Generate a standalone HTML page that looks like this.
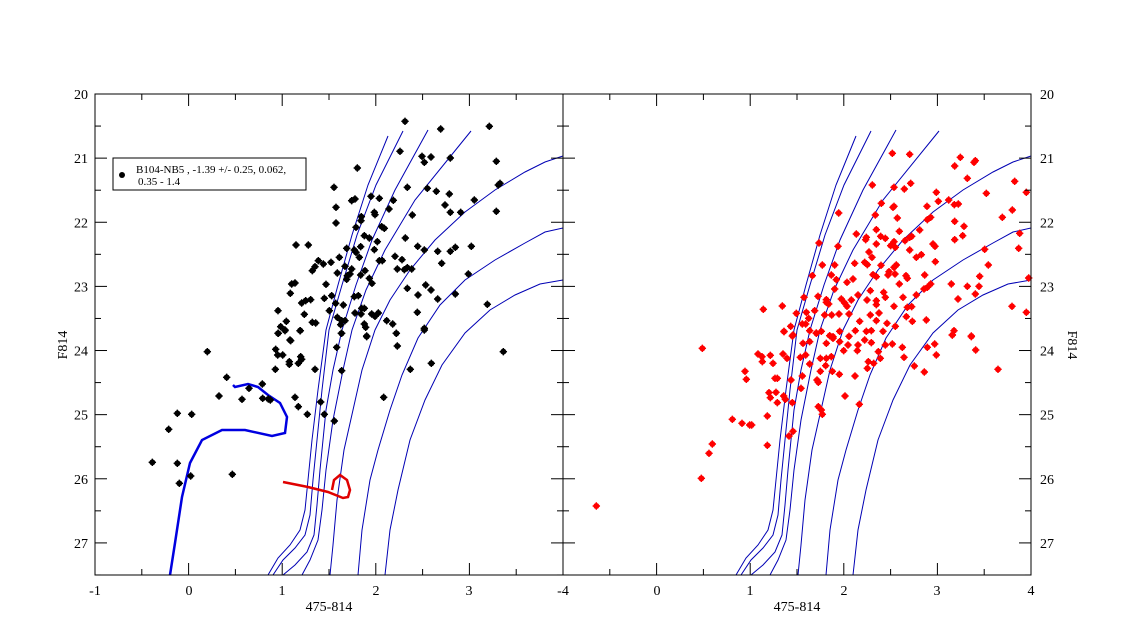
<!DOCTYPE html>
<html><head><meta charset="utf-8"><style>
html,body{margin:0;padding:0;background:#fff;}
svg{display:block;font-family:"Liberation Serif",serif;}
</style></head><body>
<svg id="c" width="1125" height="625" viewBox="0 0 1125 625" xmlns="http://www.w3.org/2000/svg">
<defs>
<clipPath id="cl"><rect x="95" y="94" width="468" height="481"/></clipPath>
<clipPath id="cr"><rect x="563" y="94" width="468" height="481"/></clipPath>
<g id="iso" fill="none" stroke="#0000b4" stroke-width="1">
<polyline points="268,575 278,558 290,545 300,530 305,510 308,480 312,440 318,390 326,330 338,285 352,235 368,185 388,136"/>
<polyline points="273,575 283,560 295,548 305,535 310,515 313,480 317,440 322,390 329,330 342,285 357,235 376,185 403,131"/>
<polyline points="283,575 295,565 307,552 314,535 317,505 320,470 326,410 333,370 342,330 356,285 372,240 395,190 428,130"/>
<polyline points="302,575 310,560 318,540 322,510 326,470 333,420 343,370 352,330 366,290 385,250 415,200 471,131"/>
<polyline points="330,575 333,545 337,500 344,450 353,410 362,370 375,330 390,300 410,270 435,240 465,212 495,190 525,172 545,162 563,156"/>
<polyline points="358,575 362,530 370,480 378,450 390,410 402,375 418,338 440,305 465,280 495,260 525,243 545,232 563,228"/>
<polyline points="385,575 390,530 398,490 410,440 425,400 442,365 465,333 490,310 515,295 540,284 563,280"/>
</g>
</defs>
<g clip-path="url(#cl)"><use href="#iso"/></g>
<g clip-path="url(#cr)"><use href="#iso" transform="translate(468,0)"/></g>
<polyline fill="none" stroke="#0000e0" stroke-width="2.5" points="170,575 175,543 182,497 190,463 202,440 222,430 245,430 272,436 285,433 287,417 280,403 268,395 258,387 248,384 235,387 233,385"/>
<polyline fill="none" stroke="#e00000" stroke-width="2.5" points="283,482 308,487 328,492 343,498 348,497 350,490 347,480 340,475 334,480 332,490"/>
<g id="stars"></g>
<g fill="none" stroke="#000" stroke-width="1">
<rect x="95" y="94" width="468" height="481"/>
<rect x="563" y="94" width="468" height="481"/>
<rect x="113" y="158" width="193" height="32"/>
</g>
<g id="ticks" stroke="#000" stroke-width="1"></g>
<circle cx="122" cy="175" r="3" fill="#000"/>
<text x="136" y="173" font-size="11">B104-NB5  , -1.39 +/- 0.25, 0.062,</text>
<text x="138" y="185" font-size="11">0.35 - 1.4</text>
<g font-size="14" text-anchor="middle">
<text x="95" y="595">-1</text><text x="189" y="595">0</text><text x="282" y="595">1</text><text x="376" y="595">2</text><text x="469" y="595">3</text><text x="563" y="595">-4</text>
<text x="657" y="595">0</text><text x="750" y="595">1</text><text x="844" y="595">2</text><text x="937" y="595">3</text><text x="1031" y="595">4</text>
<text x="329" y="611">475-814</text><text x="797" y="611">475-814</text>
</g>
<g font-size="14" text-anchor="end" id="yl"></g>
<g font-size="14" text-anchor="start" id="yr"></g>
<text font-size="14" text-anchor="middle" transform="translate(67,345) rotate(-90)">F814</text>
<text font-size="14" text-anchor="middle" transform="translate(1068,345) rotate(90)">F814</text>
</svg>
<script>
var NS="http://www.w3.org/2000/svg";
function el(t,a,p){var e=document.createElementNS(NS,t);for(var k in a)e.setAttribute(k,a[k]);p.appendChild(e);return e;}
var S=document.getElementById("stars");
function star(x,y,c){el("circle",{cx:x,cy:y,r:3,fill:c},S);
 el("path",{d:"M"+(x-3.7)+","+y+"h7.4M"+x+","+(y-3.7)+"v7.4",stroke:c,"stroke-width":1.4},S);}
var b1=[930,82,1037,105,1183,97,915,172,981,187,988,205,1008,189,1066,192,1204,202,787,222,717,280,937,280,997,283,1024,292,1063,300,1215,268,1210,273,723,340,770,320,780,315,828,307,853,313,895,319,882,345,838,355,840,362,799,368,798,380,952,363,1050,333,1066,355,1097,355,1138,318,1204,352,723,387,783,400,860,398,868,403,808,425,823,432,847,443,931,432,968,457,988,468,1028,472,1066,472,1081,460,1129,457,603,453,640,453,755,463,778,468,783,475,797,458,838,467,670,500,660,518,652,530,685,510,708,505,733,490,750,517,770,525,793,490,810,530,853,500,862,500,900,487,921,497,907,525,928,527,937,521,950,525,1040,508,1120,540,590,570,600,567,586,598,693,571,727,537,757,545,755,556,765,540,797,543,823,553,831,568,937,583,969,603,992,573,1008,588,1028,615,1081,600,1177,631,620,627,632,620,647,617,688,613,710,605,722,628,745,633,778,608,790,605,800,643,808,643,780,657,798,660,830,660,840,667,850,657,875,680,893,690,904,718,967,655,988,703,549,650,628,661,574,682,557,698,570,708,549,718,616,710,652,685,662,687,703,650,727,670,740,680,737,692,750,680,808,690,812,700,739,718,815,728,585,738];
var b2=[550,10,570,2,615,2,587,32,740,10,815,18,904,10,907,48,988,0,337,65,542,58,548,75,563,75,583,95,583,103,610,100,617,80,620,88,725,52,740,122,660,118,541,118,1225,65,1009,100,946,118,395,142,502,162,462,175,372,198,441,208,503,205,520,207,526,210,600,202,610,230,637,253,677,216,688,253,718,273,866,202,247,250,290,253,221,298,172,397,247,400,287,438,253,460,412,433];
var r1=[988,178,1040,181,1192,190,1175,216,1237,200,1233,205,1213,253,1355,262,1270,298,1390,295,928,273,993,280,1024,285,1043,268,827,357,955,328,993,337,990,340,1003,372,937,363,1120,295,1126,322,1157,318,1174,332,1186,330,1092,337,1093,377,1103,370,1175,382,1203,397,1348,348,1318,370,1370,418,1367,463,768,447,825,457,880,420,910,430,908,437,940,407,953,427,967,433,940,450,993,443,983,455,997,460,1009,412,1026,440,1040,430,1046,427,1070,408,1110,450,1116,457,1040,468,1060,490,1075,482,1117,503,1175,437,1199,425,1265,466,1276,513,1397,552,748,545,778,513,815,513,805,543,820,557,870,555,852,565,875,508,905,505,918,474,927,490,913,512,930,542,940,548,954,514,975,543,978,533,993,520,1000,513,996,540,1029,545,1033,553,1009,570,1085,543,1165,570,1213,577,1250,547,1248,577,1237,600,723,610,765,607,790,617,790,625,797,630,815,585,835,615,845,627,852,637,865,618,885,603,912,618,922,590,940,620,940,632,962,595,967,610,993,637,1020,610,1033,640,1046,638,1060,603,1083,585,1093,580,1103,570,1185,615,1347,637,1390,655,601,646,658,636,700,658,730,655,737,673,728,690,755,650,785,663,806,663,828,660,858,660,890,682,922,663,940,680,948,657,972,688,997,697,1030,668,1048,682,1090,678,1173,710,1168,723,1225,726,663,712,683,697,690,723,718,690,740,710,760,717,775,712,800,725,810,733,830,712,858,727,877,710,910,712,925,710,960,712];
var r2=[663,5,688,18,720,40,740,35,760,10,790,40,810,20,830,35,855,45,885,45,905,30,925,38,967,45,988,42,1018,52,1168,15,1225,20,1238,60,1305,118,1054,108,1084,126,1093,52,1115,42,1120,75,1023,82,418,55,585,72,597,80,598,95,622,76,630,100,660,72,672,85,712,82,728,75,740,102,772,85,790,85,805,80,842,62,883,62,916,95,932,100,946,65,952,85,913,115,546,124,550,148,636,145,643,145,684,150,718,138,762,150,766,157,772,124,788,107,808,124,829,133,876,138,714,175,618,188,622,203,639,187,662,198,667,208,643,218,688,218,846,198,889,223,766,230,775,240,778,253,613,258,508,268,537,280,560,285,566,285,690,304,678,318,613,346,448,342,438,370,415,445,100,528];
function put(a,ox,oy,c){for(var i=0;i<a.length;i+=2)star(a[i]/3+ox,a[i+1]/3+oy,c);}
put(b1,95,94,"#000");put(b2,95,330,"#000");put(r1,563,94,"#f00");put(r2,563,330,"#f00");
var T=document.getElementById("ticks");
function ln(x1,y1,x2,y2){el("line",{x1:x1,y1:y1,x2:x2,y2:y2},T);}
[95,563].forEach(function(x0){
 for(var i=0;i<=10;i++){var x=x0+i*46.8,L=(i%2==0)?12:6;ln(x,94,x,94+L);ln(x,575,x,575-L);}
});
for(var i=0;i<=15;i++){var y=94+i*64.13/2,L=(i%2==0)?12:6;
 ln(95,y,95+L,y);ln(563,y,563-L,y);ln(563,y,563+L,y);ln(1031,y,1031-L,y);}
var yl=document.getElementById("yl"),yr=document.getElementById("yr");
for(var v=20;v<=27;v++){var y=94+(v-20)*64.13+5;
 el("text",{x:88,y:y},yl).textContent=v;el("text",{x:1040,y:y},yr).textContent=v;}
</script>
</body></html>
